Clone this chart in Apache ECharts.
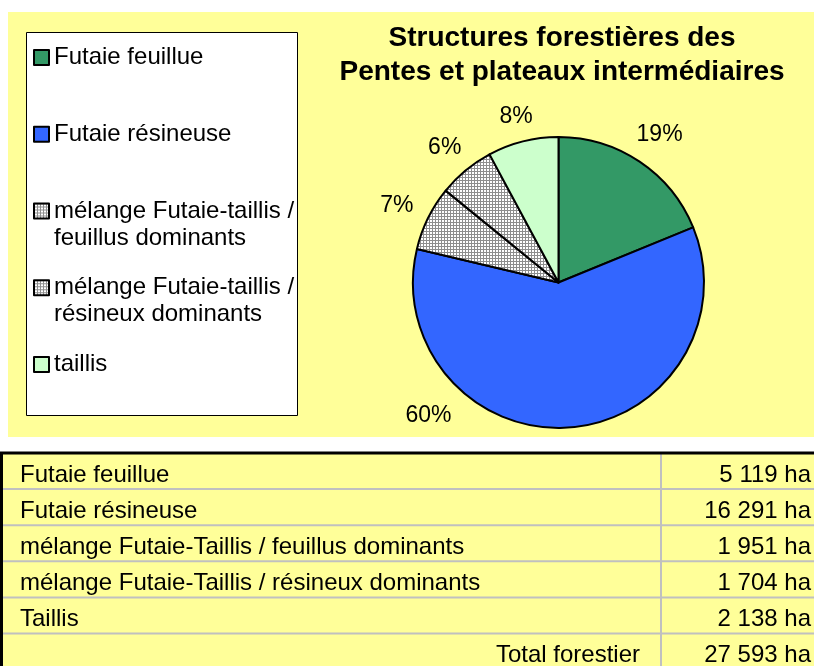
<!DOCTYPE html>
<html><head><meta charset="utf-8">
<script src="https://cdn.jsdelivr.net/npm/echarts@6/dist/echarts.min.js"></script>
<style>html,body{margin:0;padding:0;background:#fff}#c{width:814px;height:666px}</style>
</head><body><div id="c"></div>
<script>
// ---- data ----
const categories = ['Futaie feuillue', 'Futaie résineuse', 'mélange Futaie-taillis / feuillus dominants', 'mélange Futaie-taillis / résineux dominants', 'taillis'];
const legendLines = [['Futaie feuillue'], ['Futaie résineuse'], ['mélange Futaie-taillis /', 'feuillus dominants'], ['mélange Futaie-taillis /', 'résineux dominants'], ['taillis']];
const tableLabels = ['Futaie feuillue', 'Futaie résineuse', 'mélange Futaie-Taillis / feuillus dominants', 'mélange Futaie-Taillis / résineux dominants', 'Taillis'];
const areas = [5119, 16291, 1951, 1704, 2138];
const totalLabel = 'Total forestier';
const totalArea = 27593;
const titleLines = ['Structures forestières des', 'Pentes et plateaux intermédiaires'];

// ---- styles / layout ----
const FONT = '"Liberation Sans", Arial, sans-serif';
const YELLOW = '#FFFF99';
const PIE_CX = 558.5, PIE_CY = 282.5, PIE_R = 145.5;
const LABEL_GAP = 16, LABEL_H = 17;

function hatch() {
  const c = document.createElement('canvas');
  c.width = 3; c.height = 3;
  const g = c.getContext('2d');
  g.fillStyle = '#ffffff'; g.fillRect(0, 0, 3, 3);
  g.fillStyle = '#8e8e8e'; g.fillRect(0, 0, 3, 1); g.fillRect(0, 0, 1, 3);
  return c;
}
const hatchImg = hatch();
const colors = ['#339966', '#3366FF', { image: hatchImg, repeat: 'repeat' }, { image: hatchImg, repeat: 'repeat' }, '#CCFFCC'];

const sum = areas.reduce((a, b) => a + b, 0);
const midAngles = [];
let acc = 0;
areas.forEach(v => { midAngles.push((acc + v / 2) / sum * 360); acc += v; });

function fmt(n) { return String(n).replace(/\B(?=(\d{3})+(?!\d))/g, ' ') + ' ha'; }

// legends (one per entry to reproduce Excel's even spacing)
const LH = 27, LEG_C0 = 57.5, LEG_PITCH = 76.75;
const legends = categories.map((name, i) => {
  const lines = legendLines[i];
  const nLines = lines.length === 1 ? 1 : 3;
  return {
    data: [name], orient: 'vertical', left: 33,
    top: LEG_C0 + i * LEG_PITCH - nLines * LH / 2,
    padding: 0, itemGap: 0, itemWidth: 15, itemHeight: 15, icon: 'rect',
    selectedMode: false,
    itemStyle: { borderColor: '#000', borderWidth: 2 },
    textStyle: { fontSize: 24, lineHeight: LH, color: '#000', fontFamily: FONT },
    formatter: () => lines.length === 1 ? lines[0] : '\n' + lines.join('\n')
  };
});

// table graphics
const TT = 453, RH = 36.1, COLX = 661, W = 814;
const g = [];
g.push({ type: 'rect', shape: { x: 8, y: 12, width: 806, height: 425 }, style: { fill: YELLOW }, z: -10 });
g.push({ type: 'rect', shape: { x: 26.5, y: 32.5, width: 271, height: 383 }, style: { fill: '#fff', stroke: '#000', lineWidth: 1 }, z: -9 });
g.push({ type: 'rect', shape: { x: 0, y: TT, width: W, height: 666 - TT }, style: { fill: YELLOW }, z: -10 });
const rows = tableLabels.length + 1;
for (let k = 1; k < rows; k++) {
  g.push({ type: 'line', shape: { x1: 0, y1: TT + k * RH, x2: W, y2: TT + k * RH }, style: { stroke: '#c0c0c0', lineWidth: 2 }, z: -8 });
}
g.push({ type: 'line', shape: { x1: COLX, y1: TT, x2: COLX, y2: 666 }, style: { stroke: '#c0c0c0', lineWidth: 2 }, z: -8 });
g.push({ type: 'line', shape: { x1: 0, y1: TT, x2: W, y2: TT }, style: { stroke: '#000', lineWidth: 3 }, z: -7 });
g.push({ type: 'line', shape: { x1: 1.5, y1: TT, x2: 1.5, y2: 666 }, style: { stroke: '#000', lineWidth: 3 }, z: -7 });
const TSTYLE = { fontSize: 24, fontFamily: FONT, fill: '#000', verticalAlign: 'middle' };
tableLabels.forEach((lab, k) => {
  const cy = TT + (k + 0.5) * RH + 4;
  g.push({ type: 'text', x: 20, y: cy, style: Object.assign({ text: lab, align: 'left' }, TSTYLE), z: -6 });
  g.push({ type: 'text', x: 811, y: cy, style: Object.assign({ text: fmt(areas[k]), align: 'right' }, TSTYLE), z: -6 });
});
{
  const cy = TT + (tableLabels.length + 0.5) * RH + 4;
  g.push({ type: 'text', x: 640, y: cy, style: Object.assign({ text: totalLabel, align: 'right' }, TSTYLE), z: -6 });
  g.push({ type: 'text', x: 811, y: cy, style: Object.assign({ text: fmt(totalArea), align: 'right' }, TSTYLE), z: -6 });
}

const chart = echarts.init(document.getElementById('c'), null, { renderer: 'canvas' });
chart.setOption({
  animation: false,
  backgroundColor: '#fff',
  title: {
    text: titleLines.join('\n'), left: 562, top: 21, textAlign: 'center', padding: 0,
    textStyle: { fontSize: 28, fontWeight: 'bold', lineHeight: 34, color: '#000', fontFamily: FONT }
  },
  legend: legends,
  graphic: { elements: g },
  series: [{
    type: 'pie',
    center: [PIE_CX, PIE_CY],
    radius: PIE_R,
    startAngle: 90,
    clockwise: true,
    avoidLabelOverlap: false,
    percentPrecision: 0,
    silent: true,
    emphasis: { disabled: true },
    itemStyle: { borderColor: '#000', borderWidth: 2 },
    label: { show: true, position: 'outside', formatter: '{d}%', fontSize: 23, color: '#000', fontFamily: FONT },
    labelLine: { show: false },
    labelLayout: function (p) {
      // Excel placed the large slice's label off its bisector (lower-left)
      const ang = p.dataIndex === 1 ? 225 : midAngles[p.dataIndex];
      const rad = ang * Math.PI / 180;
      const s = Math.sin(rad), c = Math.cos(rad);
      const d = PIE_R + LABEL_GAP + p.labelRect.width / 2 * Math.abs(s) + LABEL_H / 2 * Math.abs(c);
      return { x: PIE_CX + d * s, y: PIE_CY - d * c + 3, align: 'center', verticalAlign: 'middle' };
    },
    data: categories.map((name, i) => ({ name: name, value: areas[i], itemStyle: { color: colors[i] } }))
  }]
});
</script></body></html>
